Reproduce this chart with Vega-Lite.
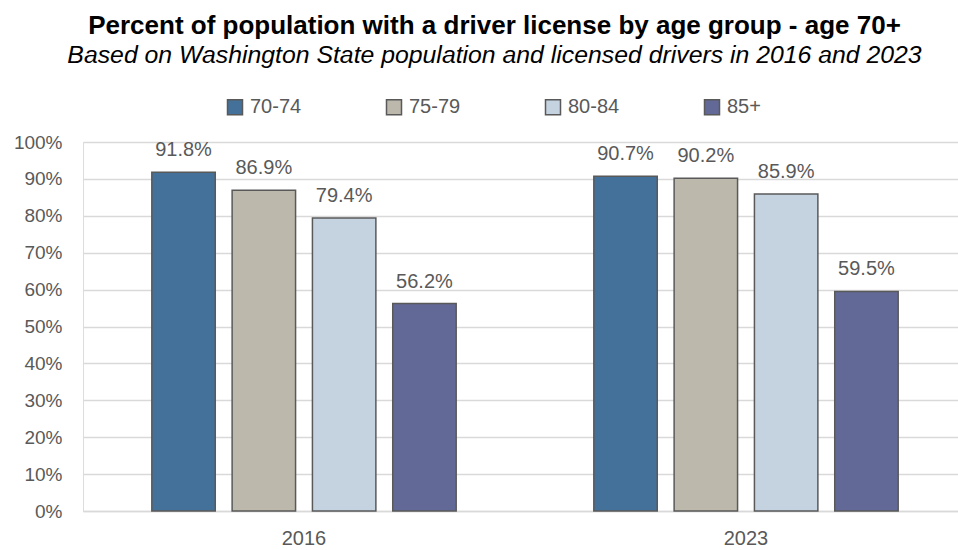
{
  "$schema": "https://vega.github.io/schema/vega-lite/v6.json",
  "width": 875,
  "height": 369,
  "autosize": "none",
  "padding": {"left": 83, "top": 142, "right": 0, "bottom": 39},
  "background": "white",
  "title": {
    "text": "Percent of population with a driver license by age group - age 70+",
    "subtitle": "Based on Washington State population and licensed drivers in  2016 and 2023",
    "font": "Liberation Sans",
    "fontSize": 26,
    "fontWeight": "bold",
    "color": "#000000",
    "subtitleFont": "Liberation Sans",
    "subtitleFontSize": 24.8,
    "subtitleFontStyle": "italic",
    "subtitleColor": "#000000",
    "subtitlePadding": 4,
    "anchor": "middle",
    "dx": -26,
    "offset": 29
  },
  "data": {
    "values": [
      {"year": "2016", "age": "70-74", "pct": 0.918},
      {"year": "2016", "age": "75-79", "pct": 0.869},
      {"year": "2016", "age": "80-84", "pct": 0.794},
      {"year": "2016", "age": "85+", "pct": 0.562},
      {"year": "2023", "age": "70-74", "pct": 0.907},
      {"year": "2023", "age": "75-79", "pct": 0.902},
      {"year": "2023", "age": "80-84", "pct": 0.859},
      {"year": "2023", "age": "85+", "pct": 0.595}
    ]
  },
  "encoding": {
    "x": {
      "field": "year",
      "type": "nominal",
      "scale": {"range": [0, 884], "paddingInner": 0, "paddingOuter": 0},
      "axis": {
        "title": null,
        "labelAngle": 0,
        "labelFont": "Liberation Sans",
        "labelFontSize": 20,
        "labelColor": "#595959",
        "labelPadding": 17,
        "ticks": false,
        "domainColor": "#D9D9D9",
        "domainWidth": 1.5,
        "grid": false
      }
    },
    "xOffset": {
      "field": "age",
      "type": "nominal",
      "sort": ["70-74", "75-79", "80-84", "85+"],
      "scale": {"paddingInner": 0.21, "paddingOuter": 0.857}
    },
    "y": {
      "field": "pct",
      "type": "quantitative",
      "scale": {"domain": [0, 1]},
      "axis": {
        "title": null,
        "values": [0, 0.1, 0.2, 0.3, 0.4, 0.5, 0.6, 0.7, 0.8, 0.9, 1],
        "format": ".0%",
        "labelFont": "Liberation Sans",
        "labelFontSize": 19,
        "labelColor": "#595959",
        "labelPadding": 21,
        "ticks": false,
        "domain": false,
        "grid": true,
        "gridColor": "#D9D9D9",
        "gridWidth": 1.5
      }
    }
  },
  "layer": [
    {
      "mark": {"type": "bar", "stroke": "#595959", "strokeWidth": 1.5},
      "encoding": {
        "color": {
          "field": "age",
          "type": "nominal",
          "sort": ["70-74", "75-79", "80-84", "85+"],
          "scale": {
            "domain": ["70-74", "75-79", "80-84", "85+"],
            "range": ["#44719A", "#BCB8AC", "#C5D3E0", "#636996"]
          },
          "legend": {
            "title": null,
            "orient": "none",
            "legendX": 142,
            "legendY": -45,
            "direction": "horizontal",
            "columns": 4,
            "gridAlign": "all",
            "columnPadding": 81,
            "symbolType": "square",
            "symbolSize": 225,
            "symbolStrokeColor": "#595959",
            "symbolStrokeWidth": 1.5,
            "symbolOpacity": 1,
            "labelFont": "Liberation Sans",
            "labelFontSize": 20,
            "labelColor": "#595959",
            "labelOffset": 5
          }
        }
      }
    },
    {
      "mark": {
        "type": "text",
        "baseline": "alphabetic",
        "dy": -16,
        "font": "Liberation Sans",
        "fontSize": 20,
        "color": "#595959"
      },
      "encoding": {
        "text": {"field": "pct", "type": "quantitative", "format": ".1%"}
      }
    }
  ]
}
